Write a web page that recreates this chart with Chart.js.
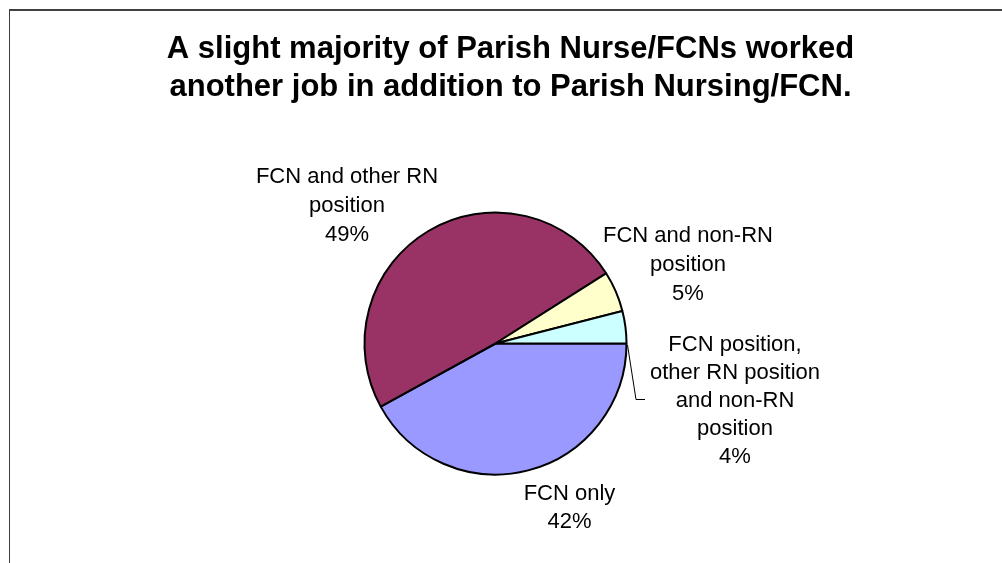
<!DOCTYPE html>
<html>
<head>
<meta charset="utf-8">
<script src="https://cdn.jsdelivr.net/npm/chart.js@4/dist/chart.umd.min.js"></script>
<style>
  html, body { margin: 0; padding: 0; background: #fff; }
  #wrap { position: relative; width: 1002px; height: 563px; overflow: hidden; }
  #frame { position: absolute; left: 9px; top: 9px; width: 1000px; height: 600px;
           border-top: 2px solid #404040; border-left: 1px solid #404040; box-sizing: border-box; }
  canvas { position: absolute; left: 0; top: 0; }
</style>
</head>
<body>
<div id="wrap">
  <div id="frame"></div>
  <canvas id="c" width="1002" height="563"></canvas>
</div>
<script>
// ---- data ----
const titleLines = [
  "A slight majority of Parish Nurse/FCNs worked",
  "another job in addition to Parish Nursing/FCN."
];
const categories = [
  "FCN only",
  "FCN and other RN position",
  "FCN and non-RN position",
  "FCN position, other RN position and non-RN position"
];
const labelLines = [
  ["FCN only"],
  ["FCN and other RN", "position"],
  ["FCN and non-RN", "position"],
  ["FCN position,", "other RN position", "and non-RN", "position"]
];
const percents = [42, 49, 5, 4];
const colors = ["#9999FF", "#993366", "#FFFFCC", "#CCFFFF"];

// ---- label placement (offsets from pie centre, in px) ----
const labelPlace = [
  { dx: 74,     dy: 156,    lh: 28 },
  { dx: -148.5, dy: -160.5, lh: 29 },
  { dx: 192.5,  dy: -102,   lh: 29 },
  { dx: 239.5,  dy: 7.5,    lh: 28 }
];

const overlay = {
  id: 'overlay',
  afterDraw(chart) {
    const ctx = chart.ctx;
    const arc = chart.getDatasetMeta(0).data[0];
    const cx = arc.x, cy = arc.y, r = arc.outerRadius;
    ctx.save();
    // title
    ctx.fillStyle = '#000';
    ctx.textAlign = 'center';
    ctx.textBaseline = 'alphabetic';
    ctx.font = 'bold 31px "Liberation Sans", Arial, sans-serif';
    ctx.fillText(titleLines[0], 510.5, 58);
    ctx.fillText(titleLines[1], 510.5, 95.5);
    // data labels
    ctx.font = '22px "Liberation Sans", Arial, sans-serif';
    labelLines.forEach((lines, i) => {
      const p = labelPlace[i];
      const all = lines.concat([percents[i] + '%']);
      all.forEach((t, k) => {
        ctx.fillText(t, cx + p.dx, cy + p.dy + k * p.lh);
      });
    });
    // leader line for the smallest slice
    ctx.strokeStyle = '#000';
    ctx.lineWidth = 1;
    ctx.beginPath();
    ctx.moveTo(cx + r + 1, cy + 1.5);
    ctx.lineTo(cx + r + 9.5, cy + 56);
    ctx.lineTo(cx + r + 18.5, cy + 56);
    ctx.stroke();
    ctx.restore();
  }
};

new Chart(document.getElementById('c'), {
  type: 'pie',
  data: {
    labels: categories,
    datasets: [{
      data: percents,
      backgroundColor: colors,
      borderColor: '#000',
      borderWidth: 2,
      borderAlign: 'center'
    }]
  },
  options: {
    responsive: false,
    animation: false,
    rotation: 90,
    layout: { padding: { top: 211.5, bottom: 87.5, left: 0, right: 11 } },
    plugins: {
      legend: { display: false },
      tooltip: { enabled: false },
      title: { display: false }
    }
  },
  plugins: [overlay]
});
</script>
</body>
</html>
